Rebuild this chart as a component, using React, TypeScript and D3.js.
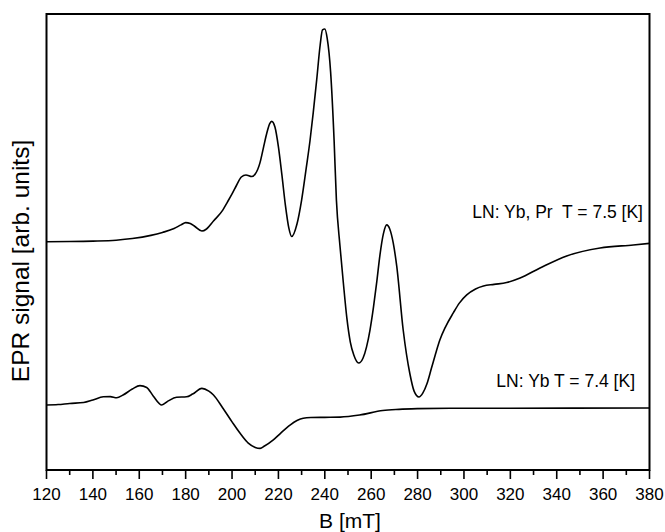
import React from "react";
import * as d3 from "d3";

// Magnetic field (mT) and EPR signal (arb. units) for the Yb, Pr sample at 7.5 K
const fieldYbPr = [
  120, 130, 140, 150, 157, 165, 170, 175, 178, 180, 182, 184, 187, 189, 192, 196, 198, 200, 202, 204,
  206, 208.5, 210, 212, 213.5, 215, 216.2, 217.1, 218.5, 220, 221.5, 223, 224.5, 225.7, 228, 230,
  232, 233.6, 235, 236.5, 238, 239, 240, 241, 242.5, 244, 245, 246.5, 248, 249.5, 251, 252.5, 254.6,
  256.5, 258, 259.5, 261, 262.4, 263.8, 265.3, 266.7, 268, 269.5, 271, 273.8, 276.7, 278.5, 280.6,
  282.3, 284, 286, 288, 289.6, 292, 295.4, 298, 301.2, 305, 308.4, 313, 318.4, 324.2, 332.8, 344.3,
  358.7, 373, 380,
];
const signalYbPr = [
  0.1, 0.2, 0.4, 0.8, 1.5, 2.9, 4.2, 5.9, 7.5, 8.5, 8.1, 6.8, 4.8, 5.7, 9.2, 14.0, 17.5, 21.1, 25.0,
  28.5, 29.4, 28.7, 29.8, 34.6, 41.2, 47.8, 51.8, 52.9, 50.4, 41.7, 29.4, 16.2, 6.1, 2.4, 7.9, 18.4,
  32.5, 44.3, 56.6, 71.1, 86.4, 93.0, 93.4, 89.5, 74.6, 44.7, 18.4, -1.3, -18.0, -33.3, -43.9, -49.6,
  -53.1, -50.9, -46.0, -38.5, -28.5, -17.5, -5.5, 3.8, 7.5, 5.7, -0.4, -10.5, -38.6, -57.9, -65.4,
  -68.0, -66.2, -62.3, -55.3, -48.2, -43.0, -37.3, -31.1, -26.8, -23.2, -20.6, -19.3, -18.6, -17.8,
  -15.8, -11.4, -6.1, -2.6, -1.3, -0.6,
];

// Magnetic field (mT) and EPR signal (arb. units) for the Yb sample at 7.4 K
const fieldYb = [
  120, 125, 130, 136, 140, 144.5, 147.5, 150.3, 153, 157, 160.3, 163.2, 166, 169.7, 172.5, 176.1,
  180.4, 183, 187, 190, 192, 196, 200, 203.4, 207, 210, 212.1, 214, 217.8, 221, 225, 228, 230.7, 234,
  240, 246.6, 255, 265, 272, 280, 294, 320, 380,
];
const signalYb = [
  -71.5, -71.3, -70.8, -70.4, -69.3, -67.9, -67.8, -68.3, -67.1, -64.5, -63.0, -63.8, -67.5, -71.5,
  -69.7, -68.1, -67.9, -66.7, -64.2, -65.4, -67.1, -72.8, -78.9, -83.8, -88.2, -90.1, -90.5, -89.5,
  -86.8, -83.8, -80.3, -78.3, -77.3, -77.0, -76.9, -76.8, -75.9, -73.9, -73.4, -73.1, -72.9, -72.9,
  -72.8,
];

const xTicksMajor = [120, 140, 160, 180, 200, 220, 240, 260, 280, 300, 320, 340, 360, 380];
const xTicksMinor = [130, 150, 170, 190, 210, 230, 250, 270, 290, 310, 330, 350, 370];

const labelYbPr = "LN: Yb, Pr  T = 7.5 [K]";
const labelYb = "LN: Yb T = 7.4 [K]";

const W = 665;
const H = 532;
const left = 46.5;
const right = 649.5;
const top = 14;
const bottom = 470;

export default function App() {
  const x = d3.scaleLinear().domain([120, 380]).range([left, right]);
  const y = d3.scaleLinear().domain([-100, 100]).range([bottom, top]);

  const line = d3
    .line<[number, number]>()
    .x((d) => x(d[0]))
    .y((d) => y(d[1]))
    .curve(d3.curveMonotoneX);

  const dYbPr = line(fieldYbPr.map((b, i) => [b, signalYbPr[i]] as [number, number])) || "";
  const dYb = line(fieldYb.map((b, i) => [b, signalYb[i]] as [number, number])) || "";

  const font = "Arial, 'Liberation Sans', sans-serif";

  return (
    <svg
      width={W}
      height={H}
      viewBox={`0 0 ${W} ${H}`}
      style={{ position: "absolute", left: 0, top: 0, background: "#fff" }}
    >
      <rect x={0} y={0} width={W} height={H} fill="#fff" />
      {/* spectra */}
      <path d={dYbPr} fill="none" stroke="#000" strokeWidth={1.6} strokeLinejoin="round" />
      <path d={dYb} fill="none" stroke="#000" strokeWidth={1.6} strokeLinejoin="round" />

      {/* frame */}
      <path
        d={`M${left},${bottom}V${top}H${right}V${bottom}Z`}
        fill="none"
        stroke="#000"
        strokeWidth={2}
      />

      {/* bottom axis ticks */}
      {xTicksMajor.map((t) => (
        <line key={`M${t}`} x1={x(t)} x2={x(t)} y1={bottom} y2={bottom + 9} stroke="#000" strokeWidth={1.6} />
      ))}
      {xTicksMinor.map((t) => (
        <line key={`m${t}`} x1={x(t)} x2={x(t)} y1={bottom} y2={bottom + 5} stroke="#000" strokeWidth={1.6} />
      ))}
      {xTicksMajor.map((t) => (
        <text
          key={`l${t}`}
          x={x(t)}
          y={500}
          textAnchor="middle"
          fontFamily={font}
          fontSize={17}
          fill="#000"
        >
          {t}
        </text>
      ))}

      {/* axis titles */}
      <text x={(left + right) / 2 + 2} y={528} textAnchor="middle" fontFamily={font} fontSize={21} fill="#000">
        B [mT]
      </text>
      <text
        transform="translate(29,261) rotate(-90)"
        textAnchor="middle"
        fontFamily={font}
        fontSize={24.5}
        fill="#000"
      >
        EPR signal [arb. units]
      </text>

      {/* series labels */}
      <text x={643} y={218} textAnchor="end" fontFamily={font} fontSize={17.5} fill="#000" style={{ whiteSpace: "pre" }}>
        {labelYbPr}
      </text>
      <text x={635} y={387} textAnchor="end" fontFamily={font} fontSize={17.5} fill="#000" style={{ whiteSpace: "pre" }}>
        {labelYb}
      </text>
    </svg>
  );
}
